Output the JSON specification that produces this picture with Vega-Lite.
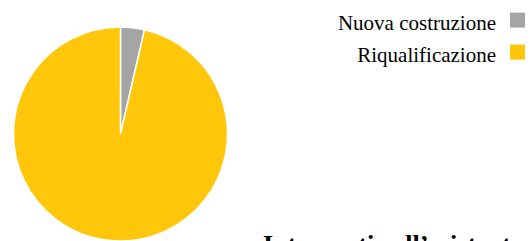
{
  "$schema": "https://vega.github.io/schema/vega-lite/v6.json",
  "width": 241,
  "height": 268,
  "autosize": {"type": "none"},
  "padding": {"left": 0, "top": 0, "right": 289, "bottom": 0},
  "background": "white",
  "title": {
    "text": "Interventi sull’esistente",
    "orient": "top",
    "anchor": "start",
    "frame": "group",
    "baseline": "alphabetic",
    "offset": 0,
    "dx": 263,
    "dy": 279,
    "font": "Liberation Serif",
    "fontSize": 26,
    "fontWeight": "bold",
    "color": "#000000"
  },
  "data": {
    "values": [
      {"categoria": "Nuova costruzione", "valore": 3.6},
      {"categoria": "Riqualificazione", "valore": 96.4}
    ]
  },
  "mark": {"type": "arc", "radius": 107, "stroke": "white", "strokeWidth": 1.5},
  "encoding": {
    "theta": {"field": "valore", "type": "quantitative", "stack": true},
    "color": {
      "field": "categoria",
      "type": "nominal",
      "scale": {"domain": ["Nuova costruzione", "Riqualificazione"], "range": ["#a5a5a5", "#ffc60a"]},
      "legend": {
        "title": null,
        "orient": "none",
        "legendX": 507,
        "legendY": 13,
        "padding": 0
      }
    }
  },
  "config": {
    "view": {"stroke": null},
    "legend": {
      "symbolType": "M-1,-1.45H1V0.55H-1Z",
      "symbolSize": 225,
      "symbolStrokeWidth": 0,
      "labelAlign": "right",
      "labelOffset": -32,
      "labelFont": "Liberation Serif, Times New Roman, serif",
      "labelFontSize": 21,
      "labelColor": "#000000",
      "labelLimit": 400,
      "rowPadding": 10
    }
  }
}
